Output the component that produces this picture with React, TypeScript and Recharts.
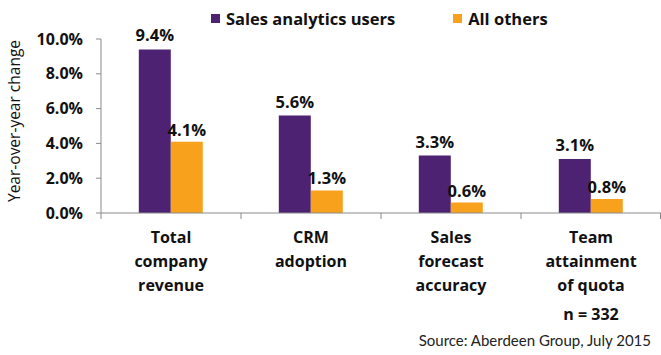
import React from "react";
import { BarChart, Bar, XAxis, YAxis, LabelList, Legend, Label } from "recharts";

const categories = [
  ["Total", "company", "revenue"],
  ["CRM", "adoption"],
  ["Sales", "forecast", "accuracy"],
  ["Team", "attainment", "of quota"],
];
const salesAnalyticsUsers = [9.4, 5.6, 3.3, 3.1];
const allOthers = [4.1, 1.3, 0.6, 0.8];
const yTicks = [0, 2, 4, 6, 8, 10];
const seriesNames = ["Sales analytics users", "All others"];

const PURPLE = "#4E2272";
const ORANGE = "#F8A11C";
const AXIS = "#8A8A8A";
const FONT = "'Open Sans', Lato, sans-serif";
const FONT2 = "Lato, 'Open Sans', sans-serif";

const data = categories.map((c, i) => ({
  cat: c.join(" "),
  lines: c,
  users: salesAnalyticsUsers[i],
  others: allOthers[i],
}));

const fmt = (v: number) => `${Number(v).toFixed(1)}%`;

const CatTick = (props: any) => {
  const { x, y, payload, index } = props;
  const off = payload.offset ?? 70;
  const lines = data[index]?.lines ?? [String(payload.value)];
  return (
    <g>
      <line x1={x - off} x2={x - off} y1={y} y2={y + 6} stroke={AXIS} strokeWidth={1} />
      {index === data.length - 1 && (
        <line x1={x + off - 0.5} x2={x + off - 0.5} y1={y} y2={y + 6} stroke={AXIS} strokeWidth={1} />
      )}
      {lines.map((l: string, i: number) => (
        <text
          key={i}
          x={x}
          y={y + 30 + i * 24}
          textAnchor="middle"
          fontFamily={FONT}
          fontWeight="bold"
          fontSize={16}
          fill="#111"
        >
          {l}
        </text>
      ))}
    </g>
  );
};

const LegendContent = () => (
  <div style={{ display: "flex", alignItems: "center", fontFamily: FONT, fontWeight: "bold", fontSize: 16.5, color: "#111", whiteSpace: "nowrap" }}>
    <span style={{ width: 9, height: 9, background: PURPLE, display: "inline-block", marginRight: 6 }} />
    <span style={{ marginRight: 58 }}>{seriesNames[0]}</span>
    <span style={{ width: 9, height: 9, background: ORANGE, display: "inline-block", marginRight: 6 }} />
    <span>{seriesNames[1]}</span>
  </div>
);

const YLabel = (props: any) => {
  const vb = props.viewBox || {};
  const cx = 20;
  const cy = (vb.y ?? 15) + (vb.height ?? 198) / 2 - 5;
  return (
    <text
      x={cx}
      y={cy}
      transform={`rotate(-90 ${cx} ${cy})`}
      textAnchor="middle"
      fontFamily={FONT}
      fontSize={15.5}
      fill="#111"
    >
      Year-over-year change
    </text>
  );
};

export default function App() {
  return (
    <div style={{ position: "relative", width: 661, height: 355, background: "#fff" }}>
      <style>{`body{margin:0}`}</style>
      <BarChart
        width={661}
        height={355}
        data={data}
        margin={{ top: 15, right: 0, left: 0, bottom: 0 }}
        barCategoryGap="27%"
        barGap={0}
      >
        <XAxis
          dataKey="cat"
          height={142}
          tickLine={false}
          tickSize={0}
          tickMargin={0}
          axisLine={{ stroke: AXIS, strokeWidth: 1 }}
          tick={<CatTick />}
          interval={0}
        />
        <YAxis
          width={101}
          domain={[0, 10]}
          ticks={yTicks}
          tickFormatter={fmt}
          axisLine={{ stroke: AXIS, strokeWidth: 1 }}
          tickLine={{ stroke: AXIS }}
          tickSize={5}
          tickMargin={13}
          tick={{ fontFamily: FONT, fontWeight: "bold", fontSize: 16, fill: "#111" }}
        >
          <Label content={<YLabel />} />
        </YAxis>
        <Legend
          verticalAlign="top"
          align="left"
          content={<LegendContent />}
          wrapperStyle={{ position: "absolute", top: 7, left: 211, width: "auto", height: 24 }}
        />
        <Bar dataKey="users" name={seriesNames[0]} fill={PURPLE} isAnimationActive={false}>
          <LabelList dataKey="users" position="top" offset={8} formatter={fmt as any}
            style={{ fontFamily: FONT, fontWeight: "bold", fontSize: 16.5, fill: "#111" }} />
        </Bar>
        <Bar dataKey="others" name={seriesNames[1]} fill={ORANGE} isAnimationActive={false}>
          <LabelList dataKey="others" position="top" offset={6} formatter={fmt as any}
            style={{ fontFamily: FONT, fontWeight: "bold", fontSize: 16.5, fill: "#111" }} />
        </Bar>
      </BarChart>
      <div style={{ position: "absolute", left: 521, width: 140, top: 303, textAlign: "center", fontFamily: FONT, fontWeight: "bold", fontSize: 16, color: "#111" }}>
        n = 332
      </div>
      <div style={{ position: "absolute", right: 10, top: 331, fontFamily: FONT2, fontSize: 15, color: "#222", whiteSpace: "nowrap" }}>
        Source: Aberdeen Group, July 2015
      </div>
    </div>
  );
}
